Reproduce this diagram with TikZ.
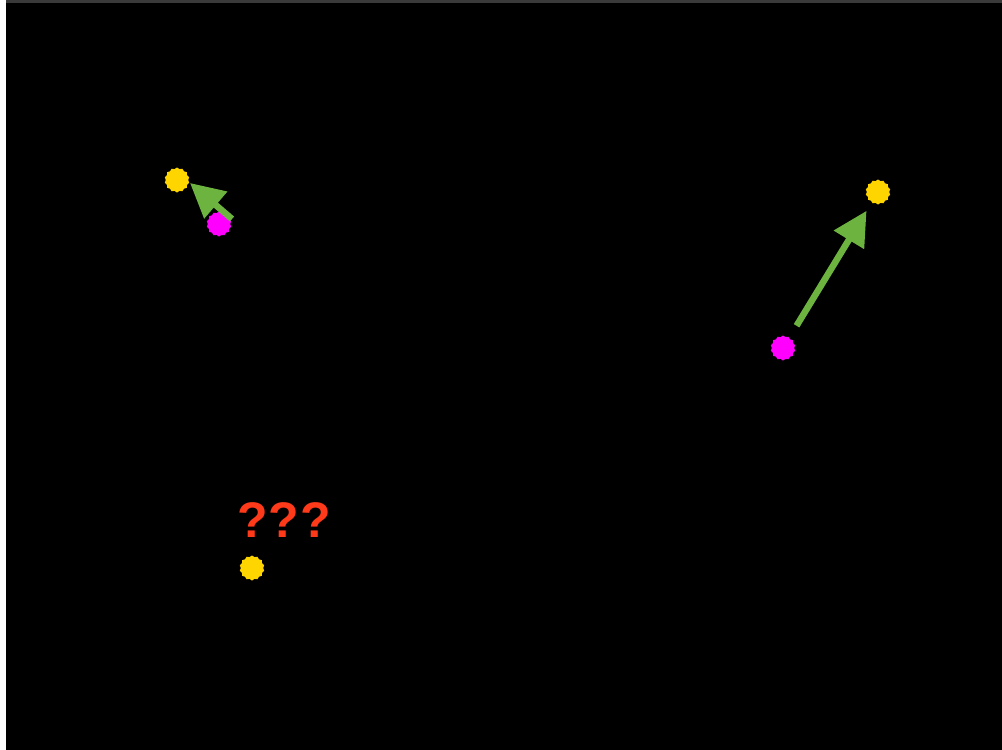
\documentclass[tikz,border=0pt]{standalone}
\usepackage{fontspec}
\setmainfont{Liberation Sans}
\usetikzlibrary{shapes.geometric,arrows.meta}
\definecolor{dotyellow}{HTML}{FFD500}
\definecolor{dotmagenta}{HTML}{FF00FF}
\definecolor{arrowgreen}{HTML}{6DB33F}
\definecolor{qred}{HTML}{FF3A1A}
\definecolor{topgray}{HTML}{3A3A3A}
\tikzset{
  dot/.style={star, star points=14, star point ratio=1.12, minimum size=25pt, inner sep=0pt, draw=none},
  ydot/.style={dot, fill=dotyellow},
  mdot/.style={dot, fill=dotmagenta},
  garrow/.style={draw=arrowgreen, line width=6.5pt, -{Triangle[length=34pt,width=34pt,fill=arrowgreen]}},
}
\begin{document}
\begin{tikzpicture}[x=1pt,y=-1pt]
\useasboundingbox (0,0) rectangle (1002,750);
\fill[white] (0,0) rectangle (1002,750);
\fill[topgray] (6,0) rectangle (1002,3);
\fill[black] (6,3) rectangle (1002,750);
\node[ydot] (y1) at (177,180) {};
\node[mdot] (m1) at (219,224) {};
\node[ydot] (y2) at (878,192) {};
\node[mdot] (m2) at (783,348) {};
\node[ydot] (y3) at (252,568) {};
\node[text=qred, font=\bfseries\fontsize{50}{50}\selectfont, inner sep=0pt] (q) at (284,520) {?\kern1pt?\kern1pt?};
\coordinate (t1) at (232,219);
\coordinate (h1) at (190,183);
\draw[garrow] (t1) -- (h1);
\draw[garrow, shorten <=14pt, shorten >=10pt] (m2) -- (y2);
\end{tikzpicture}
\end{document}
